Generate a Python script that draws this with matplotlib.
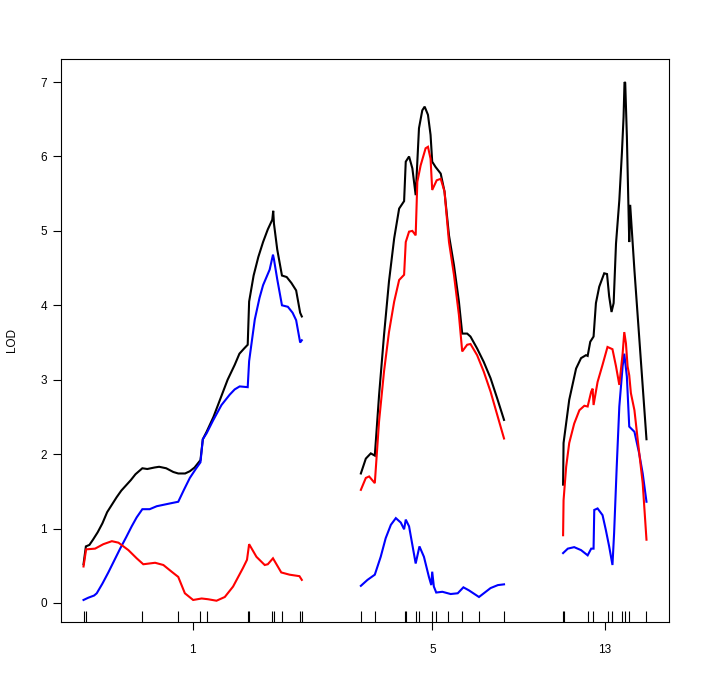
import matplotlib
matplotlib.use("Agg")
import matplotlib.pyplot as plt
import numpy as np

# chromosome names and marker positions (cM)
chroms = ["1", "5", "13"]
markers_1 = [0, 1.0, 24.9, 40.1, 49.5, 52.1, 69.5, 70.1, 79.9, 80.6, 84.0, 91.7, 92.4]
markers_5 = [0, 5.9, 18.5, 19.1, 23.2, 24.6, 30.2, 31.8, 37.0, 43.0, 50.0, 60.6]
markers_13 = [0, 0.4, 10.5, 12.7, 18.8, 20.7, 24.9, 26.2, 28.0, 35.3]

# chr 1 LOD curves
pos_1_black = [0, 1.0, 2.5, 4, 6, 8, 10, 12, 14, 16, 18, 20, 22, 24.9, 27, 30, 32, 35, 38, 40.1,
               43, 45, 47, 49.5, 50.5, 52.1, 55, 58, 61, 64, 66, 68, 69.5, 70.1, 72, 74, 76, 78,
               79.9, 80.3, 80.6, 82, 84.0, 86, 88, 90, 91.7, 92.4]
lod_1_black = [0.52, 0.76, 0.78, 0.85, 0.95, 1.07, 1.22, 1.32, 1.42, 1.51, 1.58, 1.65, 1.73, 1.81,
               1.80, 1.82, 1.83, 1.81, 1.76, 1.74, 1.74, 1.77, 1.82, 1.92, 2.2, 2.3, 2.5, 2.75, 3.0,
               3.2, 3.35, 3.42, 3.47, 4.05, 4.4, 4.65, 4.85, 5.02, 5.15, 5.27, 5.1, 4.75, 4.4, 4.38,
               4.3, 4.2, 3.9, 3.85]
pos_1_blue = [0, 2.0, 4.5, 5.6, 8, 10.5, 13, 15.5, 18, 20.4, 22.5, 24.9, 28, 31, 34, 37, 40.1, 42.5,
              45, 47.5, 49.5, 50.5, 52.1, 54.8, 58.4, 61.9, 64, 66.1, 69.5, 70.1, 72.5, 74.5, 76,
              78.8, 80.2, 80.6, 82, 84, 86.5, 88.5, 90, 91.7, 92.4]
lod_1_blue = [0.04, 0.07, 0.10, 0.13, 0.26, 0.41, 0.57, 0.73, 0.88, 1.03, 1.15, 1.26, 1.26, 1.30,
              1.32, 1.34, 1.36, 1.52, 1.68, 1.80, 1.89, 2.20, 2.28, 2.45, 2.66, 2.80, 2.87, 2.91,
              2.90, 3.25, 3.81, 4.1, 4.27, 4.48, 4.68, 4.62, 4.35, 4.0, 3.98, 3.9, 3.8, 3.50, 3.53]
pos_1_red = [0, 1.1, 4.9, 8.4, 12, 14.8, 19, 22.5, 25.3, 30.3, 33.8, 37.3, 40.1, 42.9, 46.4, 50,
             52.7, 56.3, 59.8, 63.3, 67.5, 69.2, 70.1, 73.2, 76.7, 78, 80.2, 83.7, 87.2, 91.4, 92.4]
lod_1_red = [0.49, 0.72, 0.73, 0.79, 0.83, 0.81, 0.71, 0.60, 0.52, 0.54, 0.51, 0.42, 0.35, 0.13,
             0.04, 0.06, 0.05, 0.03, 0.08, 0.22, 0.47, 0.58, 0.79, 0.62, 0.51, 0.52, 0.60, 0.41,
             0.38, 0.36, 0.31]

# chr 5 LOD curves
pos_5_black = [0, 2.1, 4.2, 5.9, 7.7, 9.8, 11.9, 14.1, 16.2, 18.3, 19.0, 20.4, 21.8, 23.2, 24.6,
               26.0, 27.0, 28.4, 29.5, 30.2, 31.6, 33.8, 35.4, 37.3, 39.4, 41.5, 42.9, 45.0, 46.4,
               49.2, 52.0, 54.9, 57.7, 60.6]
lod_5_black = [1.74, 1.94, 2.01, 1.98, 2.79, 3.60, 4.32, 4.90, 5.30, 5.40, 5.93, 6.0, 5.84, 5.48,
               6.38, 6.62, 6.67, 6.56, 6.29, 5.93, 5.86, 5.77, 5.53, 4.94, 4.54, 4.05, 3.62, 3.62,
               3.58, 3.42, 3.24, 3.02, 2.75, 2.46]
pos_5_blue = [0, 2.8, 5.9, 8.4, 10.5, 12.7, 14.8, 16.9, 18.3, 19.0, 20.4, 23.2, 24.8, 26.7, 28.8,
              29.8, 30.2, 30.9, 31.9, 34.5, 38.0, 41, 43.4, 45.7, 50.0, 54.9, 58, 60.6]
lod_5_blue = [0.23, 0.31, 0.38, 0.62, 0.87, 1.05, 1.14, 1.08, 0.99, 1.12, 1.03, 0.53, 0.76, 0.62,
              0.35, 0.24, 0.42, 0.22, 0.14, 0.15, 0.12, 0.13, 0.21, 0.17, 0.08, 0.20, 0.24, 0.25]
pos_5_red = [0, 2.1, 3.5, 5.9, 7.7, 9.8, 11.9, 14.1, 16.2, 18.3, 19.0, 20.4, 21.8, 23.2, 23.9,
             25.3, 27.4, 28.4, 29.5, 30.2, 32.1, 33.8, 35.4, 37.3, 39.4, 41.5, 42.9, 45.0, 46.4,
             49.2, 52.0, 54.9, 57.7, 60.6]
lod_5_red = [1.52, 1.68, 1.70, 1.61, 2.44, 3.11, 3.64, 4.05, 4.34, 4.41, 4.85, 4.99, 5.0, 4.94,
             5.66, 5.88, 6.11, 6.13, 5.97, 5.55, 5.68, 5.70, 5.53, 4.85, 4.41, 3.87, 3.38, 3.47,
             3.48, 3.33, 3.11, 2.84, 2.53, 2.21]

# chr 13 LOD curves
pos_13_black = [0, 0.2, 2.6, 5.5, 7.6, 9.7, 10.4, 11.5, 12.9, 13.9, 15.3, 17.4, 18.6, 19.5, 20.5,
                21.4, 22.4, 23.8, 24.9, 25.6, 26.0, 26.3, 27.0, 28.0, 28.4, 30.2, 32.2, 35.3]
lod_13_black = [1.59, 2.15, 2.73, 3.15, 3.29, 3.33, 3.32, 3.51, 3.58, 4.03, 4.25, 4.43, 4.42, 4.12,
                3.91, 4.03, 4.83, 5.41, 6.05, 6.53, 7.0, 6.99, 6.27, 4.85, 5.35, 4.47, 3.58, 2.2]
pos_13_blue = [0, 2.0, 4.7, 7.6, 10.4, 11.9, 12.9, 13.2, 14.6, 16.7, 18.1, 19.5, 20.9, 21.6, 22.7,
               23.8, 25.2, 25.9, 27.0, 28.0, 30.2, 32.2, 33.7, 35.3]
lod_13_blue = [0.67, 0.73, 0.75, 0.71, 0.64, 0.73, 0.73, 1.25, 1.27, 1.18, 0.98, 0.76, 0.51, 0.94,
               1.83, 2.64, 3.18, 3.35, 3.04, 2.37, 2.30, 2.01, 1.74, 1.36]
pos_13_red = [0, 0.2, 1.3, 2.6, 4.7, 6.9, 9.0, 10.4, 11.9, 12.5, 12.9, 14.6, 16.7, 18.8, 20.9,
              22.4, 23.8, 25.2, 25.9, 26.6, 27.3, 28.0, 28.7, 30.2, 31.6, 33.7, 35.3]
lod_13_red = [0.91, 1.38, 1.83, 2.15, 2.41, 2.59, 2.65, 2.64, 2.84, 2.88, 2.66, 2.97, 3.20, 3.44,
              3.41, 3.18, 2.93, 3.35, 3.64, 3.49, 3.18, 3.06, 2.82, 2.59, 2.19, 1.61, 0.85]

gap = 25
colors = ["black", "blue", "red"]


def main():
    fig = plt.figure(figsize=(7.01, 6.98), dpi=100)
    ax = fig.add_axes([61 / 701, 1 - 622 / 698, 608 / 701, 563 / 698])

    markers = [markers_1, markers_5, markers_13]
    curves = [
        [(pos_1_black, lod_1_black), (pos_1_blue, lod_1_blue), (pos_1_red, lod_1_red)],
        [(pos_5_black, lod_5_black), (pos_5_blue, lod_5_blue), (pos_5_red, lod_5_red)],
        [(pos_13_black, lod_13_black), (pos_13_blue, lod_13_blue), (pos_13_red, lod_13_red)],
    ]

    offset = 0
    mids = []
    for i in range(len(chroms)):
        length = max(markers[i])
        for (pos, lod), col in zip(curves[i], colors):
            ax.plot(np.array(pos) + offset, lod, color=col, lw=1.5, solid_joinstyle="miter")
        # marker rug along the bottom
        ax.vlines(np.array(markers[i]) + offset, 0, 0.02, transform=ax.get_xaxis_transform(),
                  color="black", lw=0.8)
        mids.append(offset + length / 2)
        offset += length + gap
    total = offset - gap

    pad = 0.04 * total
    ax.set_xlim(-pad, total + pad)
    ax.set_ylim(-0.256, 7.31)

    ax.set_xticks(mids)
    ax.set_xticklabels(chroms)
    ax.set_yticks(range(0, 8))
    ax.tick_params(axis="x", length=5.5, width=0.8, pad=10.5, labelsize=8.5)
    ax.tick_params(axis="y", length=6, width=0.8, pad=4, labelsize=8.5)
    for lab in ax.get_xticklabels() + ax.get_yticklabels():
        lab.set_fontfamily("Liberation Sans")
    for sp in ax.spines.values():
        sp.set_linewidth(0.8)

    fig.text(12 / 701, 1 - 340 / 698, "LOD", rotation=90, ha="center", va="center",
             fontsize=8.5, family="Liberation Sans")

    fig.savefig("out.png", dpi=100)


if __name__ == "__main__":
    main()
